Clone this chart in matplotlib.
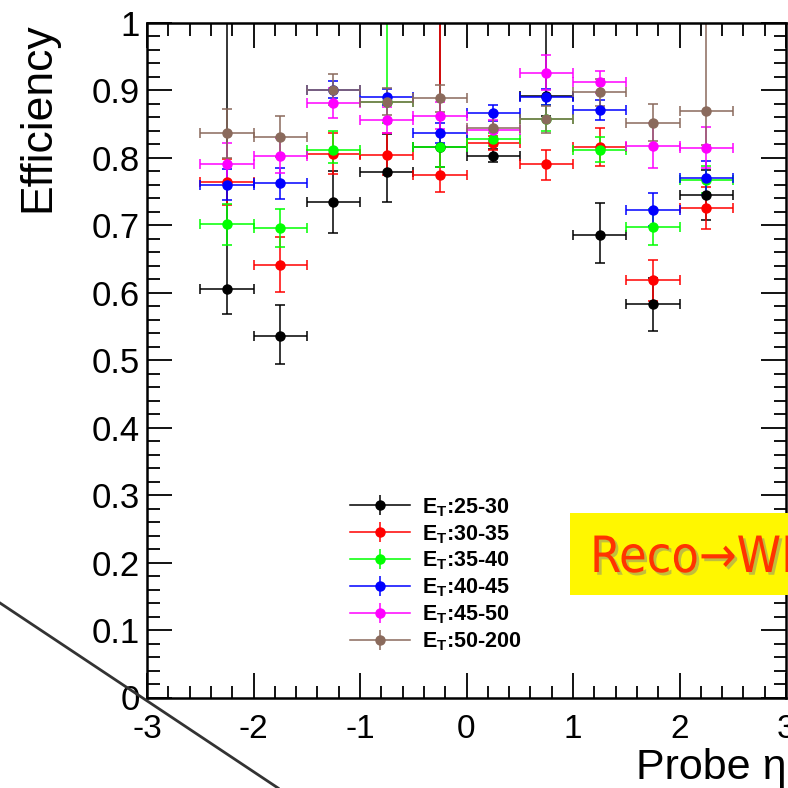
import matplotlib
matplotlib.use("Agg")
import matplotlib.pyplot as plt
import matplotlib.patheffects as pe
from matplotlib.lines import Line2D
from matplotlib.patches import Rectangle
from matplotlib.legend_handler import HandlerTuple
from matplotlib.ticker import MultipleLocator, FuncFormatter

plt.rcParams['font.family'] = ['Liberation Sans', 'DejaVu Sans']
plt.rcParams['mathtext.fontset'] = 'custom'
plt.rcParams['mathtext.rm'] = 'Liberation Sans'
plt.rcParams['mathtext.bf'] = 'Liberation Sans:bold'
plt.rcParams['axes.unicode_minus'] = False

# probe eta bins (centres, half width 0.25)
eta = [-2.25, -1.75, -1.25, -0.75, -0.25, 0.25, 0.75, 1.25, 1.75, 2.25]
eta_err = 0.25

eff_25_30 = [0.606, 0.536, 0.735, 0.779, 0.816, 0.803, 0.892, 0.686, 0.583, 0.744]
lo_25_30 = [0.038, 0.042, 0.046, 0.044, 0.030, 0.010, 0.030, 0.042, 0.040, 0.036]
hi_25_30 = [0.450, 0.045, 0.045, 0.056, 0.250, 0.010, 0.150, 0.047, 0.039, 0.037]

eff_30_35 = [0.764, 0.641, 0.806, 0.804, 0.774, 0.822, 0.790, 0.816, 0.618, 0.725]
lo_30_35 = [0.034, 0.040, 0.030, 0.030, 0.025, 0.010, 0.023, 0.029, 0.031, 0.030]
hi_30_35 = [0.034, 0.042, 0.030, 0.032, 0.300, 0.010, 0.022, 0.028, 0.031, 0.032]

eff_35_40 = [0.702, 0.696, 0.811, 0.882, 0.816, 0.827, 0.858, 0.812, 0.697, 0.767]
lo_35_40 = [0.031, 0.028, 0.019, 0.030, 0.030, 0.010, 0.019, 0.019, 0.027, 0.020]
hi_35_40 = [0.030, 0.028, 0.028, 0.200, 0.020, 0.010, 0.020, 0.019, 0.027, 0.020]

eff_40_45 = [0.760, 0.762, 0.901, 0.890, 0.837, 0.866, 0.890, 0.871, 0.723, 0.770]
err_40_45 = [0.023, 0.023, 0.013, 0.012, 0.015, 0.012, 0.012, 0.015, 0.024, 0.025]

eff_45_50 = [0.791, 0.803, 0.881, 0.856, 0.862, 0.841, 0.926, 0.912, 0.818, 0.815]
err_45_50 = [0.030, 0.026, 0.022, 0.019, 0.020, 0.015, 0.026, 0.016, 0.034, 0.031]

eff_50_200 = [0.836, 0.831, 0.901, 0.883, 0.888, 0.844, 0.857, 0.897, 0.852, 0.869]
lo_50_200 = [0.036, 0.030, 0.023, 0.020, 0.020, 0.020, 0.020, 0.020, 0.027, 0.050]
hi_50_200 = [0.036, 0.030, 0.023, 0.020, 0.020, 0.020, 0.020, 0.020, 0.027, 0.200]

labels = ["25-30", "30-35", "35-40", "40-45", "45-50", "50-200"]
colors = ["black", "#ff0000", "#00ff00", "#0000ff", "#ff00ff", "#8a6a5c"]

series = [
    (eff_25_30, lo_25_30, hi_25_30),
    (eff_30_35, lo_30_35, hi_30_35),
    (eff_35_40, lo_35_40, hi_35_40),
    (eff_40_45, err_40_45, err_40_45),
    (eff_45_50, err_45_50, err_45_50),
    (eff_50_200, lo_50_200, hi_50_200),
]

fig = plt.figure(figsize=(7.88, 7.88), dpi=100)
ax = fig.add_axes([147/788, 1 - 697.5/788, (786 - 147)/788, (697.5 - 22.7)/788])

handles = []
for (eff, lo, hi), c, lab in zip(series, colors, labels):
    ax.errorbar(eta, eff, xerr=eta_err, yerr=[lo, hi], fmt="o", color=c,
                ms=6.5, elinewidth=1.1, capsize=3.5, capthick=1.1)
    h = (Line2D([], [], color=c, lw=1.1),
         Line2D([], [], color=c, marker="|", ms=14, mew=1.1, ls="none"),
         Line2D([], [], color=c, marker="o", ms=6.5, ls="none"))
    handles.append(h)

ax.set_xlim(-3, 3)
ax.set_ylim(0, 1)
ax.xaxis.set_major_locator(MultipleLocator(1))
ax.xaxis.set_minor_locator(MultipleLocator(0.2))
ax.yaxis.set_major_locator(MultipleLocator(0.1))
ax.yaxis.set_minor_locator(MultipleLocator(0.02))
ax.yaxis.set_major_formatter(FuncFormatter(lambda v, p: "%g" % round(v, 2)))
ax.tick_params(which="both", direction="in", top=True, right=True, width=1.3)
ax.tick_params(which="major", length=18)
ax.tick_params(which="minor", length=9)
ax.tick_params(axis="y", pad=5, labelsize=25)
ax.tick_params(axis="x", pad=12, labelsize=24)
for s in ax.spines.values():
    s.set_linewidth(1.8)

ax.set_ylabel("Efficiency", fontsize=32, loc="top", labelpad=24)
ax.set_xlabel("Probe η", fontsize=31, loc="right", labelpad=2)

leg_labels = [r"$\mathbf{E_{T}}$:" + l for l in labels]
ax.legend(handles, leg_labels, handler_map={tuple: HandlerTuple(ndivide=1)},
          loc="upper left", bbox_to_anchor=(350/788, 1 - 496/788),
          bbox_transform=fig.transFigure, frameon=False, borderpad=0,
          borderaxespad=0, handlelength=2.8, handletextpad=0.55,
          labelspacing=0.2, prop={"weight": "bold", "size": 15.5})

# yellow label box, cut off by the canvas edge
fig.add_artist(Rectangle((570/788, 1 - 595/788), 0.3, 82/788, transform=fig.transFigure,
                         facecolor="#fff700", edgecolor="none", zorder=5))
fig.text(590/788, 1 - 572/788, "Reco→WP", fontsize=36, color="#ff3300",
         family=["DejaVu Sans"], fontstretch="condensed", zorder=6,
         path_effects=[pe.withSimplePatchShadow(offset=(2, -2), shadow_rgbFace="#999966", alpha=0.6)])

fig.add_artist(Line2D([0, 278/788], [1 - 603/788, 0], transform=fig.transFigure,
                      color="#333333", lw=2, zorder=10))

fig.savefig("out.png", dpi=100)
